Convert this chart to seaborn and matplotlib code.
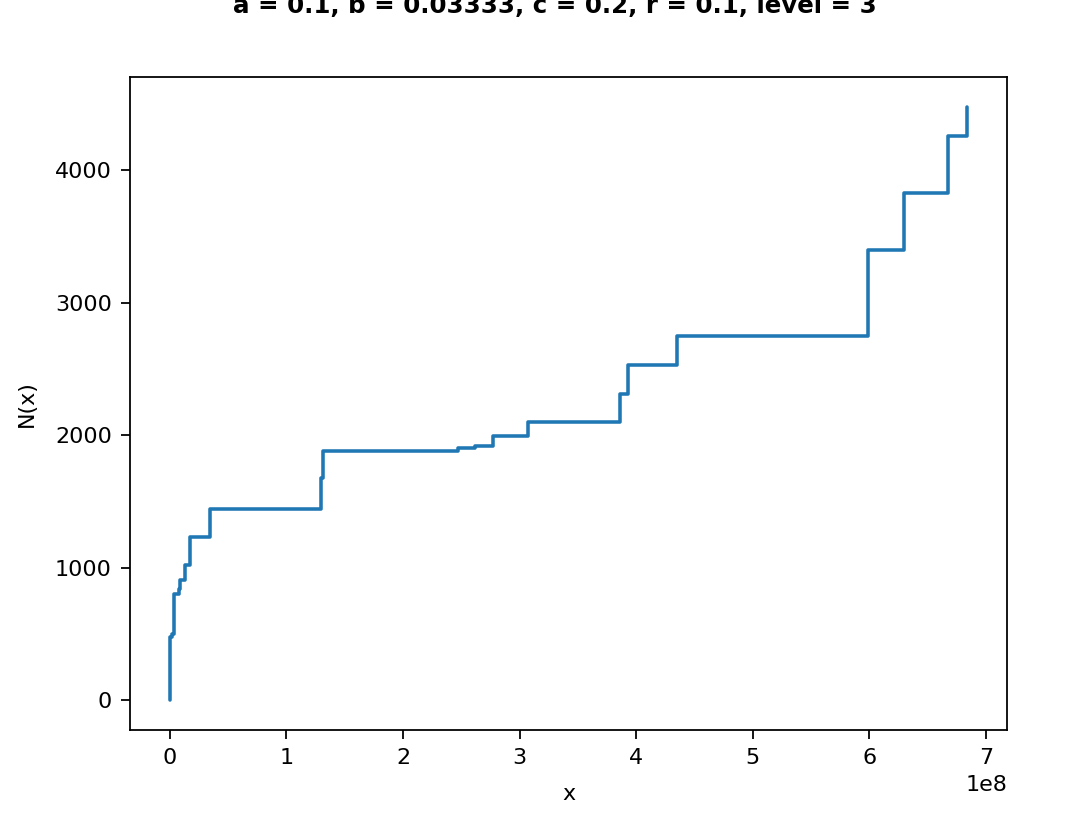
import numpy as np
import pandas as pd
import seaborn as sns
import matplotlib
matplotlib.use("Agg")
import matplotlib.pyplot as plt

# step locations (x, in units of 1e8) and N(x) after each jump
x_jumps = [0.0, 0.002, 0.019, 0.036, 0.076, 0.085, 0.128, 0.177, 0.343, 1.300,
           1.310, 2.476, 2.62, 2.77, 3.07, 3.86, 3.93, 4.35, 5.99, 6.30, 6.68, 6.84]
n_values = [0, 476, 501, 802, 840, 910, 1020, 1235, 1446, 1680,
            1880, 1902, 1917, 1997, 2100, 2310, 2530, 2750, 3400, 3830, 4260, 4480]
title = "a = 0.1, b = 0.03333, c = 0.2, r = 0.1, level = 3"

DPI = 160
W, H = 1076, 823

sns.set_style("ticks")
plt.rcParams["font.family"] = ["DejaVu Sans"]
plt.rcParams.update({
    "text.color": "black",
    "axes.labelcolor": "black",
    "xtick.color": "black",
    "ytick.color": "black",
    "axes.edgecolor": "black",
})

df = pd.DataFrame({"x": np.array(x_jumps) * 1e8, "N": n_values})

fig = plt.figure(figsize=(W / DPI, H / DPI), dpi=DPI)
ax = fig.add_axes([130 / W, 1 - 730 / H, 877 / W, 653 / H])

sns.lineplot(data=df, x="x", y="N", ax=ax, drawstyle="steps-post",
             color="#1f77b4", linewidth=1.6)

ax.set_xlabel("x", labelpad=7)
ax.set_ylabel("N(x)", labelpad=8)
ax.set_yticks([0, 1000, 2000, 3000, 4000])
for s in ax.spines.values():
    s.set_visible(True)
    s.set_linewidth(0.8)
ax.tick_params(direction="out", length=4.2, width=0.8, pad=4)

fig.text(555 / W, 1 - 13 / H, title, ha="center", va="baseline",
         fontsize=11, fontweight="bold")

fig.savefig("out.png", dpi=DPI)
